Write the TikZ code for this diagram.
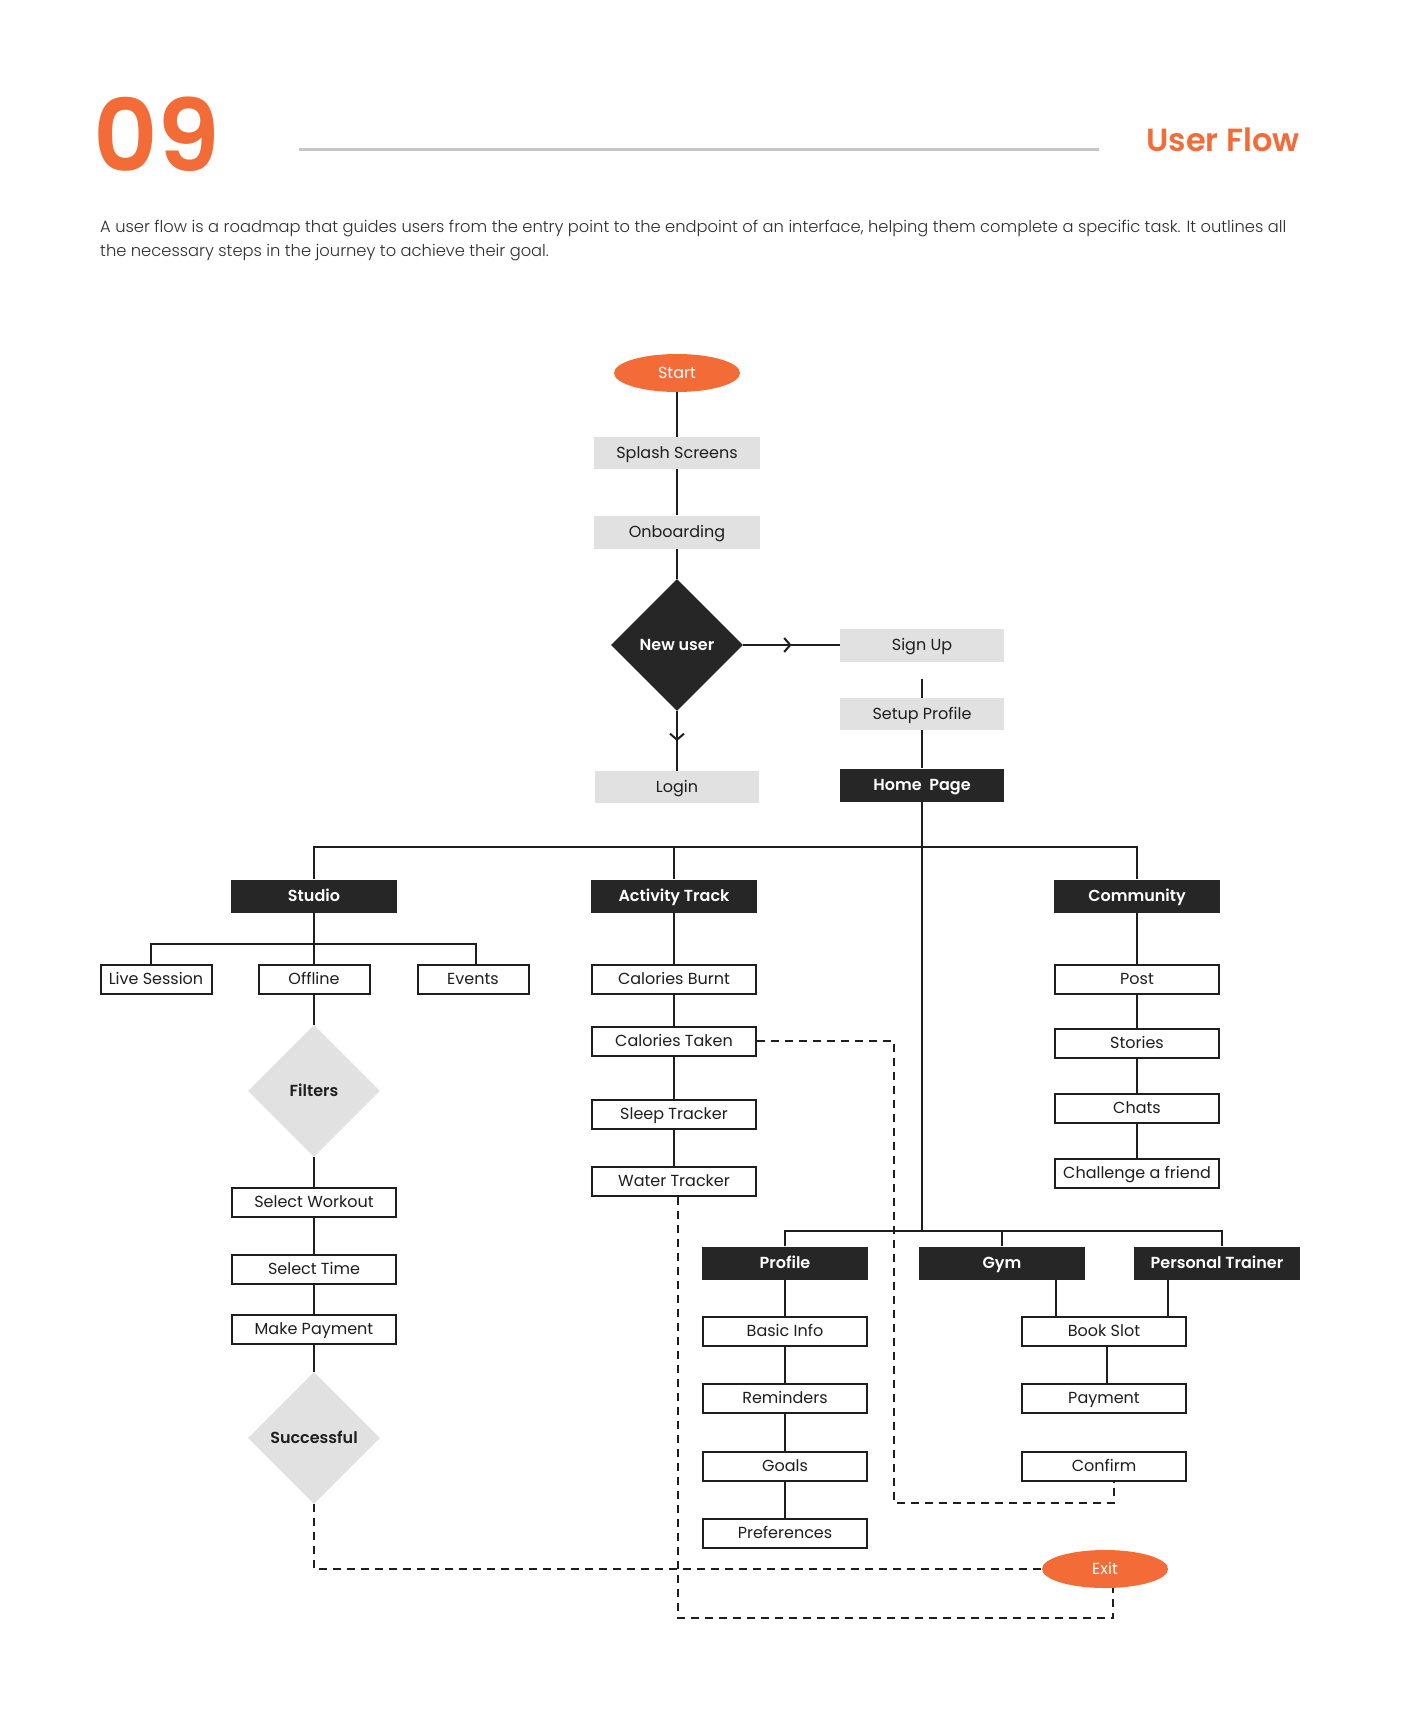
\documentclass[tikz,border=0pt]{standalone}
\usepackage{fontspec}
\setmainfont{Poppins}[BoldFont={Poppins SemiBold}]
\newfontfamily\poplight{Poppins Light}
\usetikzlibrary{shapes.geometric,arrows.meta,decorations.markings,calc}
\definecolor{brand}{HTML}{F36C37}
\definecolor{lightbox}{HTML}{E1E1E1}
\definecolor{blackfill}{HTML}{262626}
\definecolor{ink}{HTML}{1E1E1E}
\definecolor{rulegrey}{HTML}{C6C6C6}
\definecolor{para}{HTML}{2E2E2E}
\begin{document}
\begin{tikzpicture}[x=1pt,y=-1pt,
  every node/.style={font=\fontsize{16}{19}\selectfont, text=ink, inner sep=0pt},
  lbl/.style={text height=11.5pt, text depth=0pt},
  greybox/.style={lbl, rectangle, fill=lightbox, minimum width=166, minimum height=33},
  blackbox/.style={lbl, rectangle, fill=blackfill, text=white, font=\fontsize{16}{19}\selectfont\bfseries, minimum width=166, minimum height=33},
  whitebox/.style={lbl, rectangle, draw=ink, line width=2pt, fill=white, minimum width=164, minimum height=29},
  smallbox/.style={whitebox, minimum width=111},
  oval/.style={lbl, ellipse, fill=brand, text=white, minimum width=126, minimum height=38},
  decision/.style={lbl, diamond, shape aspect=1, minimum width=132, minimum height=132, fill=blackfill, text=white, font=\fontsize{16}{19}\selectfont\bfseries},
  greydecision/.style={decision, fill=lightbox, text=ink},
  link/.style={draw=ink, line width=2pt},
  dashlink/.style={draw=ink, line width=2pt, dash pattern=on 8pt off 6pt},
  chevron/.style={postaction={decorate}, decoration={markings, mark=at position 0.5 with {\arrow{Straight Barb[length=6pt,width=14pt]}}}}
]
\useasboundingbox (0,0) rectangle (1400,1720);
\fill[white] (0,0) rectangle (1400,1720);

% header
\node[anchor=base west, text=brand, font=\fontsize{100}{100}\selectfont\bfseries] (num) at (93,172) {09};
\draw[rulegrey, line width=3pt] (299,150) -- (1099,150);
\node[anchor=base east, text=brand, font=\fontsize{32}{32}\selectfont\bfseries] (title) at (1300,152) {User Flow};
\node[anchor=north west, align=left, text=para, font=\fontsize{16.3}{24}\selectfont\poplight] (intro) at (100,220)
  {A user flow is a roadmap that guides users from the entry point to the endpoint of an interface, helping them complete a specific task. It outlines all\\the necessary steps in the journey to achieve their goal.};

% top flow
\node[oval] (start) at (677,373) {Start};
\node[greybox, minimum height=32] (splash) at (677,453) {Splash Screens};
\node[greybox] (onb) at (677,532) {Onboarding};
\node[decision] (newuser) at (677,645) {New user};
\node[greybox, minimum width=164] (signup) at (922,645) {Sign Up};
\node[greybox, minimum width=164, minimum height=32] (setup) at (922,714) {Setup Profile};
\node[blackbox, minimum width=164] (home) at (922,785) {Home\ \ Page};
\node[greybox, minimum width=164, minimum height=32] (login) at (677,787) {Login};

\draw[link] (start) -- (splash);
\draw[link] (splash) -- (onb);
\draw[link] (onb) -- (newuser);
\draw[link, chevron] (newuser.east) -- (signup.west);
\draw[link, chevron] (newuser.south) -- (login.north);
\coordinate (sugap) at ($(signup.south)+(0,17)$);
\draw[link] (sugap) -- (setup.north);
\draw[link] (setup) -- (home);

% main bus
\coordinate (busy) at (0,847);
\coordinate (lowy) at (0,1231);
\node[blackbox] (studio) at (314,896) {Studio};
\node[blackbox] (activity) at (674,896) {Activity Track};
\node[blackbox] (community) at (1137,896) {Community};
\draw[link] (studio.north) -- (studio.north |- busy) -- (community.north |- busy) -- (community.north);
\draw[link] (activity.north |- busy) -- (activity.north);
\draw[link] (home.south) -- (home.south |- lowy);

% studio branch
\coordinate (suby) at (0,944);
\coordinate (lx) at (151,0);
\coordinate (ex) at (476,0);
\node[smallbox] (live) at (156,979) {Live Session};
\node[smallbox] (offline) at (314,979) {Offline};
\node[smallbox] (events) at (473,979) {Events};
\draw[link] (studio) -- (offline);
\draw[link] (live.north -| lx) -- (suby -| lx) -- (suby -| ex) -- (events.north -| ex);
\node[greydecision] (filters) at (314,1091) {Filters};
\node[whitebox] (selworkout) at (314,1202) {Select Workout};
\node[whitebox] (seltime) at (314,1269) {Select Time};
\node[whitebox] (makepay) at (314,1329) {Make Payment};
\node[greydecision] (success) at (314,1438) {Successful};
\draw[link] (offline) -- (filters);
\draw[link] (filters) -- (selworkout);
\draw[link] (selworkout) -- (seltime);
\draw[link] (seltime) -- (makepay);
\draw[link] (makepay) -- (success);

% activity branch
\node[whitebox] (calburnt) at (674,979) {Calories Burnt};
\node[whitebox] (caltaken) at (674,1041) {Calories Taken};
\node[whitebox] (sleep) at (674,1114) {Sleep Tracker};
\node[whitebox] (water) at (674,1181) {Water Tracker};
\draw[link] (activity) -- (calburnt);
\draw[link] (calburnt) -- (caltaken);
\draw[link] (caltaken) -- (sleep);
\draw[link] (sleep) -- (water);

% community branch
\node[whitebox] (post) at (1137,979) {Post};
\node[whitebox] (stories) at (1137,1043) {Stories};
\node[whitebox] (chats) at (1137,1108) {Chats};
\node[whitebox] (challenge) at (1137,1173) {Challenge a friend};
\draw[link] (community) -- (post);
\draw[link] (post) -- (stories);
\draw[link] (stories) -- (chats);
\draw[link] (chats) -- (challenge);

% lower bus
\coordinate (tx) at (1222,0);
\node[blackbox] (profile) at (785,1263) {Profile};
\node[blackbox] (gym) at (1002,1263) {Gym};
\node[blackbox] (trainer) at (1217,1263) {Personal Trainer};
\draw[link] (profile.north) -- (profile.north |- lowy) -- (lowy -| tx) -- (trainer.north -| tx);
\draw[link] (gym.north |- lowy) -- (gym.north);

\node[whitebox] (basic) at (785,1331) {Basic Info};
\node[whitebox] (remind) at (785,1398) {Reminders};
\node[whitebox] (goals) at (785,1466) {Goals};
\node[whitebox] (prefs) at (785,1533) {Preferences};
\draw[link] (profile) -- (basic);
\draw[link] (basic) -- (remind);
\draw[link] (remind) -- (goals);
\draw[link] (goals) -- (prefs);

\coordinate (gx) at (1056,0);
\coordinate (ptx) at (1168,0);
\coordinate (bpx) at (1107,0);
\node[whitebox] (book) at (1104,1331) {Book Slot};
\node[whitebox] (payment) at (1104,1398) {Payment};
\node[whitebox] (confirm) at (1104,1466) {Confirm};
\draw[link] (gym.south -| gx) -- (book.north -| gx);
\draw[link] (trainer.south -| ptx) -- (book.north -| ptx);
\draw[link] (book.south -| bpx) -- (payment.north -| bpx);

\node[oval] (exit) at (1105,1569) {Exit};

% dashed returns
\coordinate (dx) at (894,0);
\coordinate (dy) at (0,1503);
\coordinate (cx) at (1114,0);
\draw[dashlink] (caltaken.east) -- (caltaken.east -| dx) -- (dx |- dy) -- (dy -| cx) -- (confirm.south -| cx);
\coordinate (wx) at (678,0);
\coordinate (wy) at (0,1618);
\coordinate (xx) at (1113,0);
\draw[dashlink] (water.south -| wx) -- (wx |- wy) -- (wy -| xx) -- (exit.south -| xx);
\draw[dashlink] (success.south) |- (exit.west);
\end{tikzpicture}
\end{document}
